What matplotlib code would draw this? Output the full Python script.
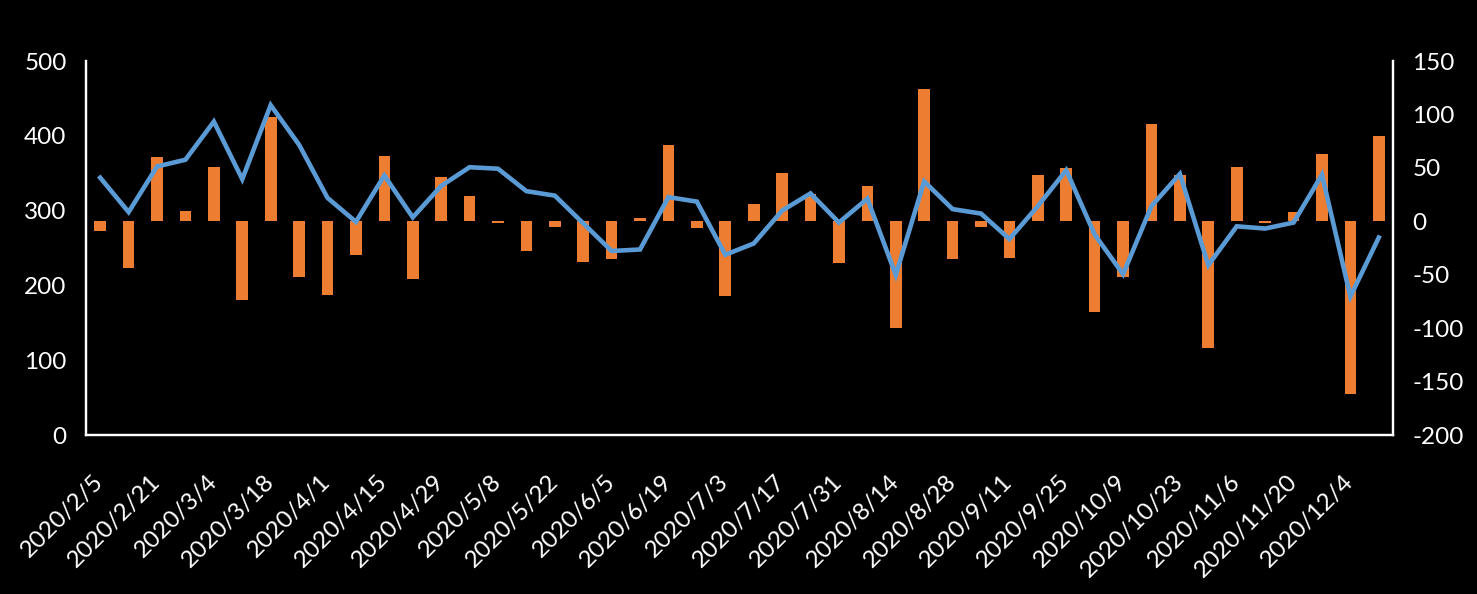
import matplotlib
matplotlib.use("Agg")
import matplotlib.pyplot as plt
import numpy as np

dates = ["2020/2/5", "2020/2/14", "2020/2/21", "2020/2/28", "2020/3/4", "2020/3/11",
         "2020/3/18", "2020/3/25", "2020/4/1", "2020/4/8", "2020/4/15", "2020/4/22",
         "2020/4/29", "2020/4/30", "2020/5/8", "2020/5/15", "2020/5/22", "2020/5/29",
         "2020/6/5", "2020/6/12", "2020/6/19", "2020/6/26", "2020/7/3", "2020/7/10",
         "2020/7/17", "2020/7/24", "2020/7/31", "2020/8/7", "2020/8/14", "2020/8/21",
         "2020/8/28", "2020/9/4", "2020/9/11", "2020/9/18", "2020/9/25", "2020/9/30",
         "2020/10/9", "2020/10/16", "2020/10/23", "2020/10/30", "2020/11/6", "2020/11/13",
         "2020/11/20", "2020/11/27", "2020/12/4", "2020/12/11"]

line_values = [344, 298, 359, 368, 419, 342, 441, 388, 317, 285, 347, 291,
               333, 358, 356, 326, 320, 283, 246, 248, 318, 312, 241, 256,
               300, 323, 284, 316, 214, 339, 302, 296, 262, 306, 354, 268,
               215, 306, 349, 227, 279, 276, 284, 348, 185, 264]

bar_values = [-9, -44, 60, 9.5, 51, -74, 98, -52, -69, -32, 61, -54,
              41, 24, -1.5, -28, -5, -38, -35, 3, 71, -6, -70, 16,
              45, 26, -39, 33, -100, 124, -35, -5, -34, 43, 50, -85,
              -52, 91, 43, -119, 51, -1.5, 9, 63, -162, 80]

left_ticks = [0, 100, 200, 300, 400, 500]
right_ticks = [-200, -150, -100, -50, 0, 50, 100, 150]

ORANGE = "#ED7D31"
BLUE = "#5B9BD5"
FONT = "Lato"
FS = 17.5

fig = plt.figure(figsize=(14.77, 5.94), dpi=100, facecolor="black")
ax_left = fig.add_axes([86 / 1477, 1 - 435 / 594, (1393 - 86) / 1477, (435 - 61) / 594])
ax_right = ax_left.twinx()

x = np.arange(len(dates))

ax_right.bar(x, bar_values, width=0.41, color=ORANGE, zorder=2)
ax_right.set_ylim(-200, 150)
ax_right.set_yticks(right_ticks)
ax_right.set_yticklabels([str(v) for v in right_ticks], fontsize=FS, family=FONT, color="white")

ax_left.plot(x, line_values, color=BLUE, lw=3.3, solid_joinstyle="miter", zorder=3)
ax_left.set_ylim(0, 500)
ax_left.set_yticks(left_ticks)
ax_left.set_yticklabels([str(v) for v in left_ticks], fontsize=FS, family=FONT, color="white")
ax_left.set_xlim(-0.5, len(dates) - 0.5)

ax_left.set_zorder(2)
ax_right.set_zorder(1)
ax_left.patch.set_visible(False)
ax_right.patch.set_facecolor("black")

ax_left.set_xticks(x[::2])
ax_left.set_xticklabels(dates[::2], rotation=45, ha="right", va="center",
                        rotation_mode="anchor", fontsize=FS, family=FONT, color="white")

for a in (ax_left, ax_right):
    for s in a.spines.values():
        s.set_color("white")
        s.set_linewidth(1.6)
    a.spines["top"].set_visible(False)

ax_left.tick_params(axis="x", length=0, pad=31)
ax_left.tick_params(axis="y", length=0, pad=14)
ax_right.tick_params(axis="y", length=0, pad=14)
ax_right.tick_params(axis="x", length=0)

fig.savefig("out.png", dpi=100, facecolor="black")
